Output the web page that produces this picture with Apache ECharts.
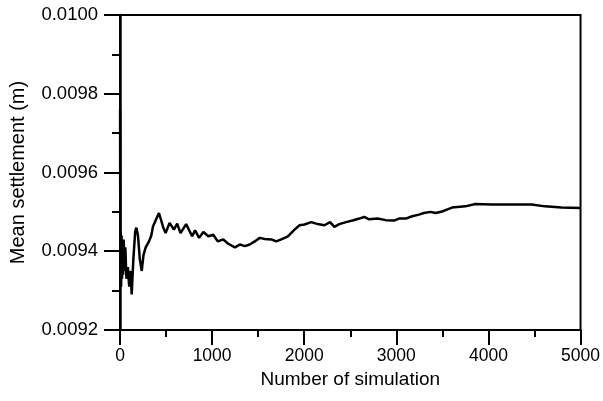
<!DOCTYPE html>
<html>
<head>
<meta charset="utf-8">
<script src="https://cdn.jsdelivr.net/npm/echarts@6/dist/echarts.min.js"></script>
<style>
html,body{margin:0;padding:0;background:#fff;}
#chart{width:603px;height:401px;}
</style>
</head>
<body>
<div id="chart"></div>
<script>
// Number of simulations (x) and running mean settlement (m)
const simN = [1,4,8,12,17,22,28,34,40,48,58,70,85,100,115,127,145,165,178,195,215,236,255,279,315,340,358,390,423,445,470,495,538,585,621,657,718,783,815,859,905,959,1013,1061,1121,1175,1247,1301,1355,1409,1463,1517,1571,1643,1697,1751,1823,1895,1949,2003,2076,2147,2219,2281,2327,2381,2454,2525,2597,2651,2705,2795,2886,2975,3029,3102,3173,3245,3299,3372,3426,3497,3562,3605,3750,3858,4037,4253,4469,4614,4793,5000];
const meanSettlement = [0.00976,0.00932,0.00945,0.00931,0.00944,0.00933,0.00942,0.00934,0.00943,0.00935,0.00941,0.00933,0.00936,0.00931,0.00935,0.00929,0.00938,0.00945,0.00946,0.00944,0.00938,0.00935,0.00939,0.00941,0.009425,0.00944,0.009463,0.00948,0.009497,0.00948,0.00946,0.009446,0.009472,0.009455,0.00947,0.009446,0.009469,0.009438,0.009453,0.009434,0.009449,0.009438,0.009442,0.009425,0.00943,0.009419,0.00941,0.009417,0.009413,0.009417,0.009425,0.009434,0.009431,0.00943,0.009425,0.00943,0.009438,0.009455,0.009466,0.009468,0.009474,0.009469,0.009466,0.009474,0.009462,0.009469,0.009474,0.009478,0.009483,0.009487,0.009481,0.009483,0.009479,0.009478,0.009483,0.009483,0.009489,0.009493,0.009497,0.0095,0.009497,0.009501,0.009507,0.009511,0.009514,0.00952,0.009519,0.009519,0.009519,0.009514,0.009511,0.00951];
const xTicks = {min: 0, max: 5000, interval: 1000};
const yTicks = {min: 0.0092, max: 0.0100, interval: 0.0002};
const xTitle = 'Number of simulation';
const yTitle = 'Mean settlement (m)';

const seriesData = simN.map((n, i) => [n, meanSettlement[i]]);
const font = 'Liberation Sans, Arial, Helvetica, sans-serif';

const chart = echarts.init(document.getElementById('chart'), null, {renderer: 'canvas'});
chart.setOption({
  animation: false,
  backgroundColor: '#fff',
  grid: {left: 120, right: 21, top: 15, bottom: 71, show: true, borderColor: '#000', borderWidth: 2, backgroundColor: 'transparent'},
  xAxis: {
    type: 'value', min: xTicks.min, max: xTicks.max, interval: xTicks.interval,
    name: xTitle, nameLocation: 'middle', nameGap: 35,
    nameTextStyle: {fontFamily: font, fontSize: 19, color: '#000'},
    axisLine: {show: true, lineStyle: {color: '#000', width: 2}},
    axisTick: {show: true, length: 15, lineStyle: {color: '#000', width: 2}},
    minorTick: {show: true, splitNumber: 2, length: 7, lineStyle: {color: '#000', width: 2}},
    axisLabel: {fontFamily: font, fontSize: 17.5, color: '#000', margin: 17, formatter: v => String(v)},
    splitLine: {show: false}
  },
  yAxis: {
    type: 'value', min: yTicks.min, max: yTicks.max, interval: yTicks.interval,
    name: yTitle, nameLocation: 'middle', nameGap: 92, nameRotate: 90,
    nameTextStyle: {fontFamily: font, fontSize: 20, color: '#000'},
    axisLine: {show: true, lineStyle: {color: '#000', width: 2.5}},
    axisTick: {show: true, length: 16, lineStyle: {color: '#000', width: 2}},
    minorTick: {show: true, splitNumber: 2, length: 8, lineStyle: {color: '#000', width: 2}},
    axisLabel: {fontFamily: font, fontSize: 18.5, color: '#000', margin: 22, formatter: v => v.toFixed(4)},
    splitLine: {show: false}
  },
  series: [{
    type: 'line', data: seriesData, showSymbol: false, smooth: false,
    lineStyle: {color: '#000', width: 2.5}
  }]
});
</script>
</body>
</html>
